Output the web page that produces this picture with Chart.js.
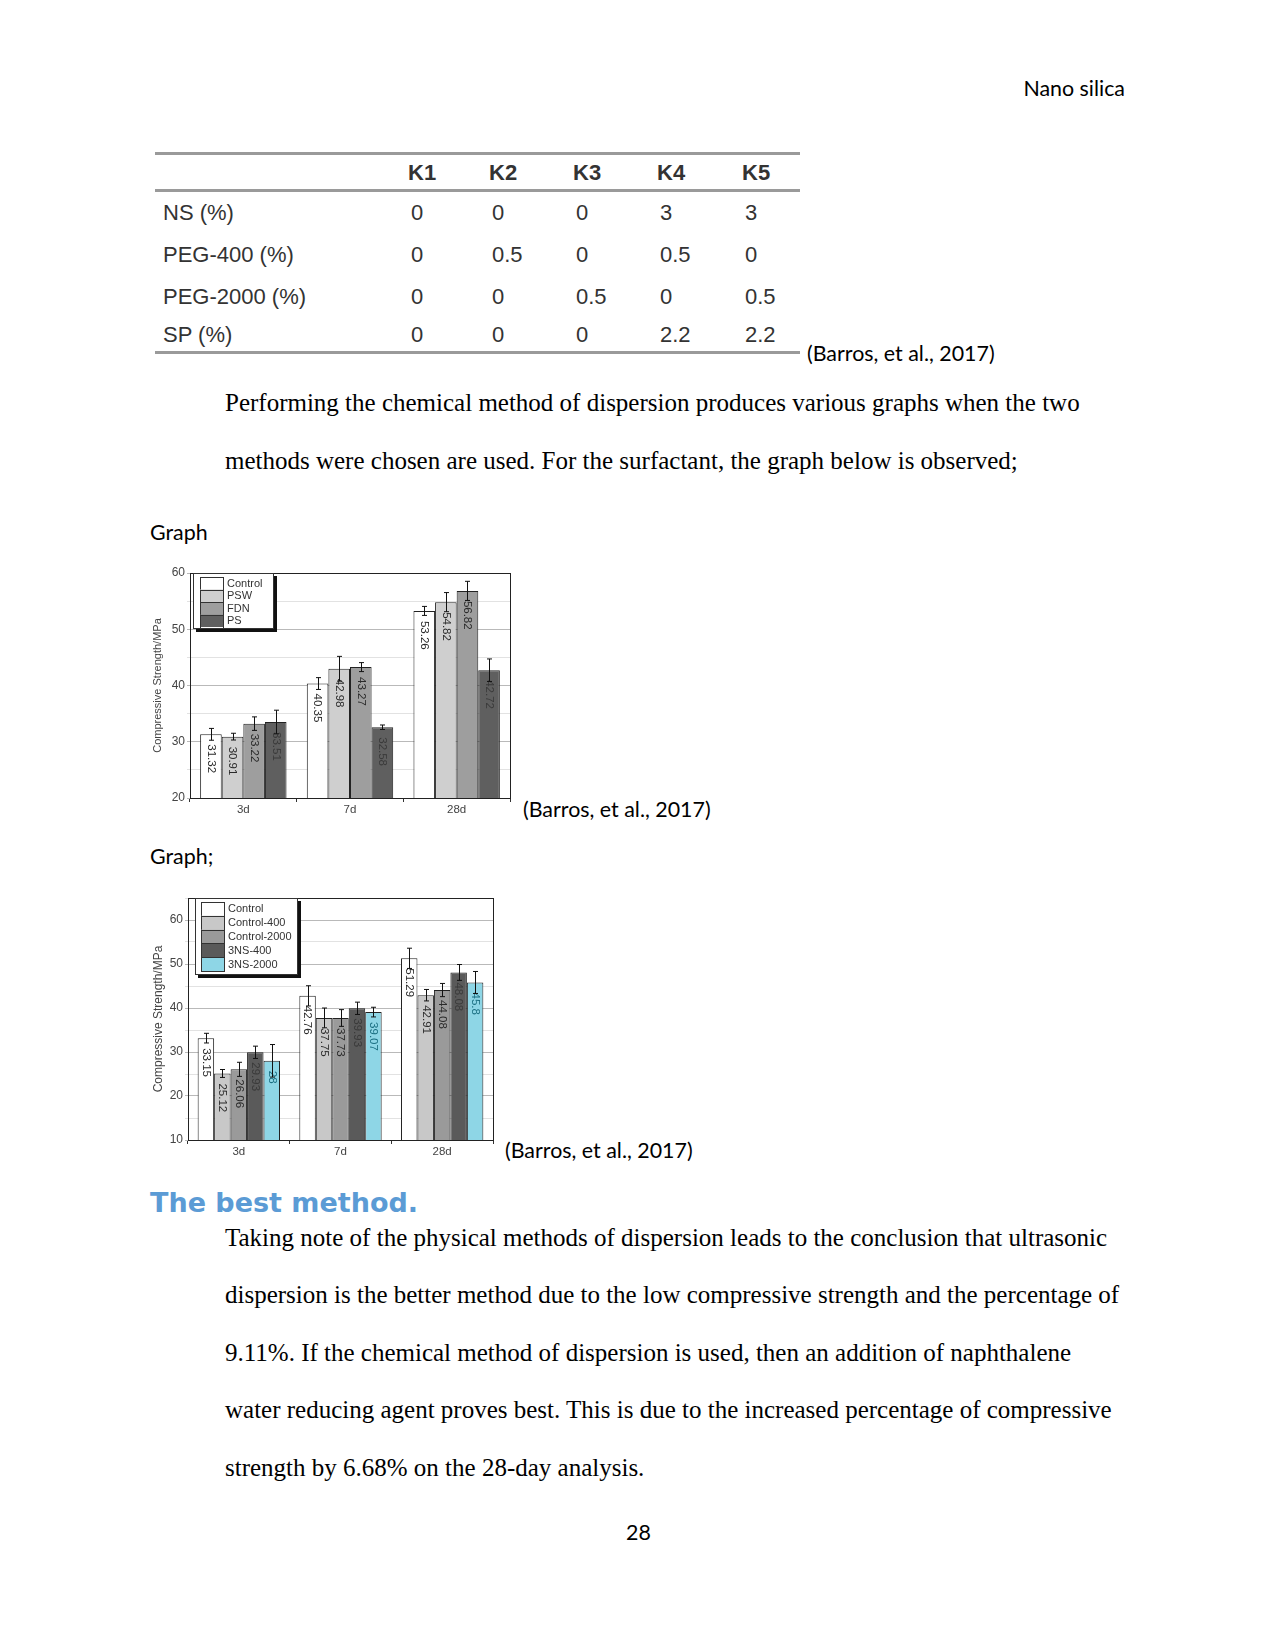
<!DOCTYPE html>
<html>
<head>
<meta charset="utf-8">
<script src="https://cdn.jsdelivr.net/npm/chart.js@4.4.1/dist/chart.umd.min.js"></script>
<style>
  html, body { margin:0; padding:0; background:#fff; }
  body { width:1275px; height:1650px; position:relative; overflow:hidden; }
  .t { position:absolute; white-space:nowrap; line-height:1; color:#000; }
  .cal { font-family: Lato, "Open Sans", sans-serif; font-size:21.4px; }
  .tnr { font-family: "Liberation Serif", "Times New Roman", serif; font-size:25px; }
  .tbl { font-family: "Liberation Sans Narrow", "Liberation Sans", Arial, sans-serif; font-size:22px; color:#333; }
  .rule { position:absolute; left:155px; width:645px; height:3px; background:#9a9a9a; }
  .h2 { font-family: "DejaVu Sans", sans-serif; font-weight:bold; font-size:27px; color:#5b9bd5; }
  canvas { position:absolute; }
</style>
</head>
<body>
<div class="t cal" style="right:150px; top:78px;">Nano silica</div>

<div class="rule" style="top:152px;"></div>
<div class="rule" style="top:189px;"></div>
<div class="rule" style="top:351px;"></div>
<div id="tbl"></div>
<div class="t cal" style="left:807px; top:343px;">(Barros, et al., 2017)</div>

<div class="t tnr" style="left:225px; top:390px;">Performing the chemical method of dispersion produces various graphs when the two</div>
<div class="t tnr" style="left:225px; top:448px;">methods were chosen are used. For the surfactant, the graph below is observed;</div>

<div class="t cal" style="left:150px; top:522px;">Graph</div>
<canvas id="c1" width="370" height="262" style="left:145px; top:562px;"></canvas>
<div class="t cal" style="left:523px; top:799px;">(Barros, et al., 2017)</div>

<div class="t cal" style="left:150px; top:846px;">Graph;</div>
<canvas id="c2" width="353" height="274" style="left:145px; top:888px;"></canvas>
<div class="t cal" style="left:505px; top:1140px;">(Barros, et al., 2017)</div>

<div class="t h2" style="left:150px; top:1189px;">The best method.</div>
<div class="t tnr" style="left:225px; top:1225px;">Taking note of the physical methods of dispersion leads to the conclusion that ultrasonic</div>
<div class="t tnr" style="left:225px; top:1282px;">dispersion is the better method due to the low compressive strength and the percentage of</div>
<div class="t tnr" style="left:225px; top:1340px;">9.11%. If the chemical method of dispersion is used, then an addition of naphthalene</div>
<div class="t tnr" style="left:225px; top:1397px;">water reducing agent proves best. This is due to the increased percentage of compressive</div>
<div class="t tnr" style="left:225px; top:1455px;">strength by 6.68% on the 28-day analysis.</div>

<div class="t cal" style="left:626px; top:1522px;">28</div>

<script>
// ---------- Table data ----------
const tableHeaders = ['K1','K2','K3','K4','K5'];
const tableRowLabels = ['NS (%)','PEG-400 (%)','PEG-2000 (%)','SP (%)'];
const tableNS      = ['0','0','0','3','3'];
const tablePEG400  = ['0','0.5','0','0.5','0'];
const tablePEG2000 = ['0','0','0.5','0','0.5'];
const tableSP      = ['0','0','0','2.2','2.2'];

// ---------- Chart 1 data ----------
const categories = ['3d','7d','28d'];
const c1Names = ['Control','PSW','FDN','PS'];
const c1Control = [31.32, 40.35, 53.26];
const c1PSW     = [30.91, 42.98, 54.82];
const c1FDN     = [33.22, 43.27, 56.82];
const c1PS      = [33.51, 32.58, 42.72];
const c1ControlErr = [1.05, 1.05, 0.8];
const c1PSWErr     = [0.6, 2.2, 1.7];
const c1FDNErr     = [1.2, 0.8, 1.7];
const c1PSErr      = [2.1, 0.4, 2.0];
const c1Ticks = [20, 30, 40, 50, 60];

// ---------- Chart 2 data ----------
const c2Names = ['Control','Control-400','Control-2000','3NS-400','3NS-2000'];
const c2Control  = [33.15, 42.76, 51.29];
const c2C400     = [25.12, 37.75, 42.91];
const c2C2000    = [26.06, 37.73, 44.08];
const c2NS400    = [29.93, 39.93, 48.08];
const c2NS2000   = [28, 39.07, 45.8];
const c2ControlErr = [1.1, 2.3, 2.3];
const c2C400Err    = [0.9, 2.25, 1.3];
const c2C2000Err   = [1.6, 1.9, 1.5];
const c2NS400Err   = [1.4, 1.4, 1.8];
const c2NS2000Err  = [3.7, 1.1, 2.5];
const c2Ticks = [10, 20, 30, 40, 50, 60];

// ---------- Table render ----------
(function(){
  const host = document.getElementById('tbl');
  const colX = [408, 489, 573, 657, 742];
  const rowY = [213, 255, 297, 335];
  const rows = [tableNS, tablePEG400, tablePEG2000, tableSP];
  function add(txt, x, cy, bold){
    const d = document.createElement('div');
    d.className = 't tbl';
    d.style.left = x + 'px';
    d.style.top = (cy - 11) + 'px';
    if (bold) d.style.fontWeight = 'bold';
    d.textContent = txt;
    host.appendChild(d);
  }
  tableHeaders.forEach((h,i)=>add(h, colX[i], 173, true));
  tableRowLabels.forEach((l,r)=>{
    add(l, 163, rowY[r], false);
    rows[r].forEach((v,i)=>add(v, colX[i]+3, rowY[r], false));
  });
})();

// ---------- Chart plugin: frame, error bars, value labels, legend ----------
const decor = {
  id: 'decor',
  afterDatasetsDraw(chart) {
    const ctx = chart.ctx, y = chart.scales.y;
    chart.data.datasets.forEach((ds, i) => {
      const meta = chart.getDatasetMeta(i);
      meta.data.forEach((bar, j) => {
        const v = ds.data[j], e = ds.errors[j];
        const yt = y.getPixelForValue(v + e), yb = y.getPixelForValue(v - e);
        ctx.save();
        ctx.translate(bar.x, bar.y + 10);
        ctx.rotate(Math.PI / 2);
        ctx.fillStyle = ds.textColor || '#2a2a2a';
        ctx.font = '11.5px "Liberation Sans", Arial, sans-serif';
        ctx.textAlign = 'left'; ctx.textBaseline = 'middle';
        ctx.fillText(String(v), 0, 0);
        ctx.restore();
        ctx.save();
        ctx.strokeStyle = '#111'; ctx.lineWidth = 1;
        const bx = Math.round(bar.x) + 0.5;
        ctx.beginPath();
        ctx.moveTo(bx, yt); ctx.lineTo(bx, yb);
        ctx.moveTo(bx - 2.5, yt); ctx.lineTo(bx + 2.5, yt);
        ctx.moveTo(bx - 2.5, yb); ctx.lineTo(bx + 2.5, yb);
        ctx.stroke();
        ctx.restore();
      });
    });
  },
  afterDraw(chart, args, opts) {
    const ctx = chart.ctx, a = chart.chartArea;
    ctx.save();
    ctx.strokeStyle = '#222'; ctx.lineWidth = 1;
    ctx.strokeRect(Math.round(a.left) + 0.5, Math.round(a.top) + 0.5, Math.round(a.right - a.left), Math.round(a.bottom - a.top));
    // legend
    const lx = Math.round(a.left + opts.dx), ly = Math.round(a.top);
    const w = opts.w, h = opts.h;
    ctx.fillStyle = '#111';
    ctx.fillRect(lx + 3, ly + 3, w + 1, h + 1);
    ctx.fillStyle = '#fff';
    ctx.fillRect(lx, ly, w, h);
    ctx.strokeStyle = '#333';
    ctx.strokeRect(lx + 0.5, ly + 0.5, w, h);
    ctx.font = opts.fs + 'px "Liberation Sans", Arial, sans-serif';
    ctx.textBaseline = 'middle'; ctx.textAlign = 'left';
    chart.data.datasets.forEach((ds, i) => {
      const top = ly + opts.first + i * opts.step;
      ctx.fillStyle = ds.backgroundColor;
      ctx.fillRect(lx + opts.sx, top, 23, opts.step);
      ctx.strokeStyle = '#333';
      ctx.strokeRect(lx + opts.sx + 0.5, Math.round(top) + 0.5, 23, Math.round(opts.step));
      ctx.fillStyle = '#333';
      ctx.fillText(ds.label, lx + opts.sx + 27, top + opts.step / 2 + 0.5);
    });
    ctx.restore();
  }
};

function makeDatasets(names, vals, errs, colors, textColors) {
  return names.map((nm, i) => ({
    label: nm,
    data: vals[i],
    errors: errs[i],
    backgroundColor: colors[i],
    borderColor: '#222',
    borderWidth: 1,
    textColor: textColors[i],
    categoryPercentage: 0.81,
    barPercentage: 1.0
  }));
}

function makeOptions(min, max, yWidth, xHeight, padTop, padRight, titleSize, labelTicks, legendOpts) {
  return {
    responsive: false,
    animation: false,
    layout: { padding: { top: padTop, right: padRight, left: 0, bottom: 0 } },
    plugins: { legend: { display: false }, tooltip: { enabled: false }, decor: legendOpts },
    scales: {
      x: {
        afterFit: s => { s.height = xHeight; },
        grid: { offset: true, drawOnChartArea: false, tickLength: 4, color: '#333' },
        border: { display: false },
        ticks: { color: '#444', font: { family: '"Liberation Sans", Arial, sans-serif', size: 11.5 }, padding: 1 }
      },
      y: {
        min: min, max: max,
        afterFit: s => { s.width = yWidth; },
        border: { display: false },
        grid: {
          color: c => (c.tick && c.tick.value % 10 === 0) ? '#b9b9b9' : '#e2e2e2',
          tickLength: 3, drawTicks: true
        },
        ticks: {
          stepSize: 5,
          color: '#444',
          padding: 2,
          font: { family: '"Liberation Sans", Arial, sans-serif', size: 12 },
          callback: v => labelTicks.includes(v) ? String(v) : ''
        },
        title: {
          display: true, text: 'Compressive Strength/MPa', color: '#444',
          font: { family: '"Liberation Sans", Arial, sans-serif', size: titleSize },
          padding: { top: 6, bottom: 0 }
        }
      }
    }
  };
}

new Chart(document.getElementById('c1'), {
  type: 'bar',
  data: {
    labels: categories,
    datasets: makeDatasets(c1Names,
      [c1Control, c1PSW, c1FDN, c1PS],
      [c1ControlErr, c1PSWErr, c1FDNErr, c1PSErr],
      ['#ffffff', '#cfcfcf', '#9e9e9e', '#5f5f5f'],
      ['#2a2a2a', '#2a2a2a', '#2a2a2a', '#3a3a3a'])
  },
  options: makeOptions(20, 60, 45, 26, 11, 5, 11, c1Ticks,
    { dx: 3, w: 80, h: 55, first: 4, step: 12.5, sx: 7, fs: 11 }),
  plugins: [decor]
});

new Chart(document.getElementById('c2'), {
  type: 'bar',
  data: {
    labels: categories,
    datasets: makeDatasets(c2Names,
      [c2Control, c2C400, c2C2000, c2NS400, c2NS2000],
      [c2ControlErr, c2C400Err, c2C2000Err, c2NS400Err, c2NS2000Err],
      ['#ffffff', '#c8c8c8', '#9a9a9a', '#5a5a5a', '#8ed6e6'],
      ['#2a2a2a', '#2a2a2a', '#2a2a2a', '#3a3a3a', '#1b6f82'])
  },
  options: makeOptions(10, 65, 43, 22, 10, 5, 12, c2Ticks,
    { dx: 7, w: 102, h: 76, first: 4, step: 13.8, sx: 6, fs: 11 }),
  plugins: [decor]
});
</script>
</body>
</html>
